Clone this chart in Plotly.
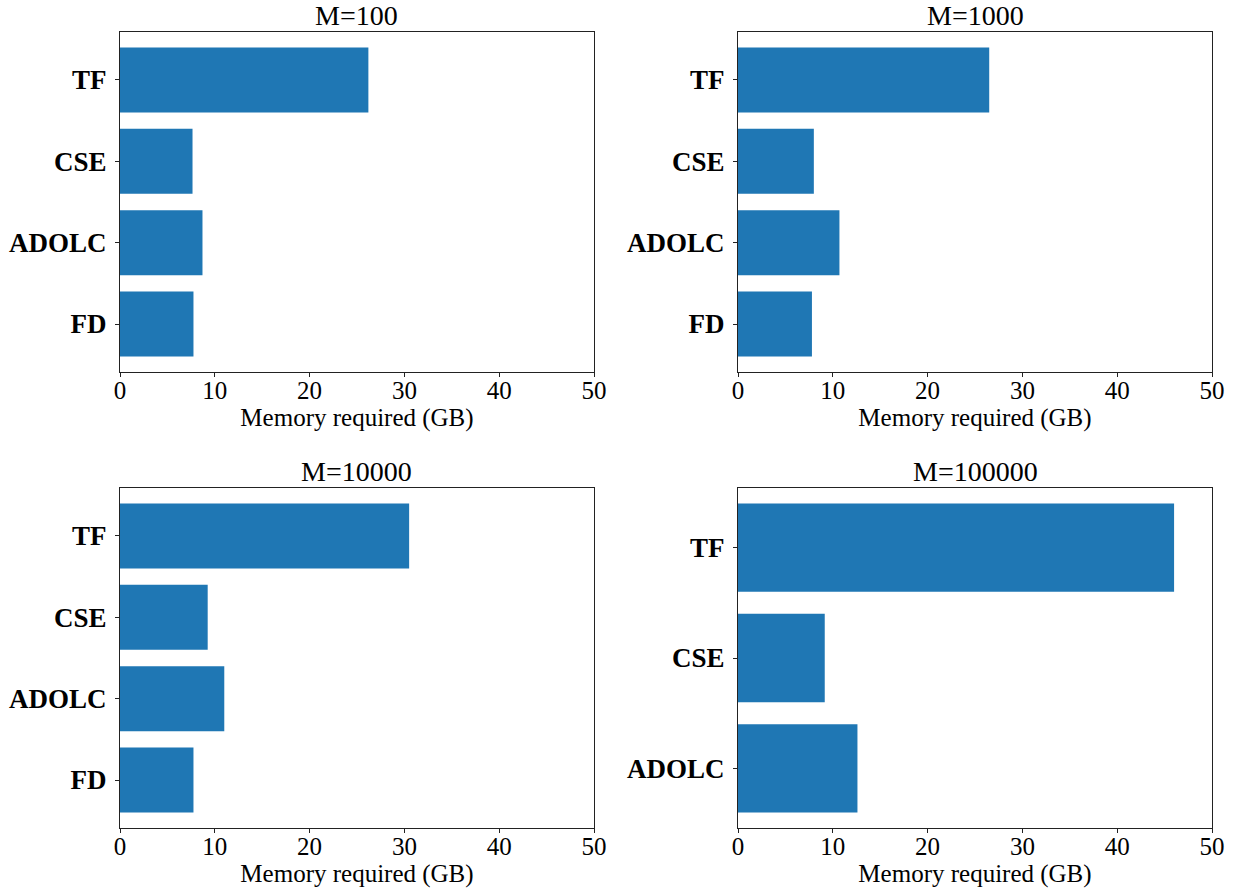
import plotly.graph_objects as go

# ---- data ----
methods_4 = ["FD", "ADOLC", "CSE", "TF"]
methods_3 = ["ADOLC", "CSE", "TF"]
mem_m100 = [7.75, 8.7, 7.65, 26.2]
mem_m1000 = [7.8, 10.7, 8.0, 26.5]
mem_m10000 = [7.75, 11.0, 9.25, 30.5]
mem_m100000 = [12.6, 9.15, 46.0]
titles = ["M=100", "M=1000", "M=10000", "M=100000"]
x_ticks = [0, 10, 20, 30, 40, 50]

W, H = 1237, 894
BLUE = "#1f77b4"
FONT = "Liberation Serif"

panels = [
    (methods_4, mem_m100, (120, 594), (32, 372)),
    (methods_4, mem_m1000, (738, 1212), (32, 372)),
    (methods_4, mem_m10000, (120, 594), (488, 828)),
    (methods_3, mem_m100000, (738, 1212), (488, 828)),
]

fig = go.Figure()
layout = {}
annotations = []
for i, (cats, vals, (x0, x1), (y0, y1)) in enumerate(panels):
    k = "" if i == 0 else str(i + 1)
    fig.add_trace(go.Bar(
        x=vals, y=cats, orientation="h", width=0.8,
        marker=dict(color=BLUE, line=dict(width=0)),
        xaxis="x" + k, yaxis="y" + k, showlegend=False,
    ))
    n = len(cats)
    m = (n - 1 + 0.8) * 0.05
    xdom = [x0 / W, x1 / W]
    ydom = [1 - y1 / H, 1 - y0 / H]
    layout["xaxis" + k] = dict(
        domain=xdom, anchor="y" + k, range=[0, 50], tickvals=x_ticks,
        showgrid=False, zeroline=False, showline=True, mirror=True,
        linecolor="#222222", linewidth=1.2, ticks="outside", ticklen=4,
        tickcolor="#222222", tickwidth=1.2, ticklabelstandoff=-8,
        tickfont=dict(family=FONT, size=25, color="black"),
        title=dict(text="Memory required (GB)", standoff=3,
                   font=dict(family=FONT, size=25, color="black")),
        automargin=False, fixedrange=True,
    )
    layout["yaxis" + k] = dict(
        domain=ydom, anchor="x" + k, type="category",
        categoryorder="array", categoryarray=cats,
        range=[-0.4 - m, n - 1 + 0.4 + m],
        showgrid=False, zeroline=False, showline=True, mirror=True,
        linecolor="#222222", linewidth=1.2, ticks="outside", ticklen=4,
        tickcolor="#222222", tickwidth=1.2, ticklabelstandoff=3,
        tickfont=dict(family=FONT, size=27, color="black", weight="bold"),
        automargin=False, fixedrange=True,
    )
    annotations.append(dict(
        text=titles[i], x=(xdom[0] + xdom[1]) / 2, y=ydom[1],
        xref="paper", yref="paper", xanchor="center", yanchor="bottom",
        yshift=-1, showarrow=False,
        font=dict(family=FONT, size=28, color="black"),
    ))

fig.update_layout(
    width=W, height=H,
    margin=dict(l=0, r=0, t=0, b=0),
    paper_bgcolor="white", plot_bgcolor="white",
    annotations=annotations,
    bargap=0.2,
    **layout,
)
fig.write_html("out.html", config={"displayModeBar": False},
               post_script="document.body.style.margin='0';document.body.style.overflow='hidden';")
